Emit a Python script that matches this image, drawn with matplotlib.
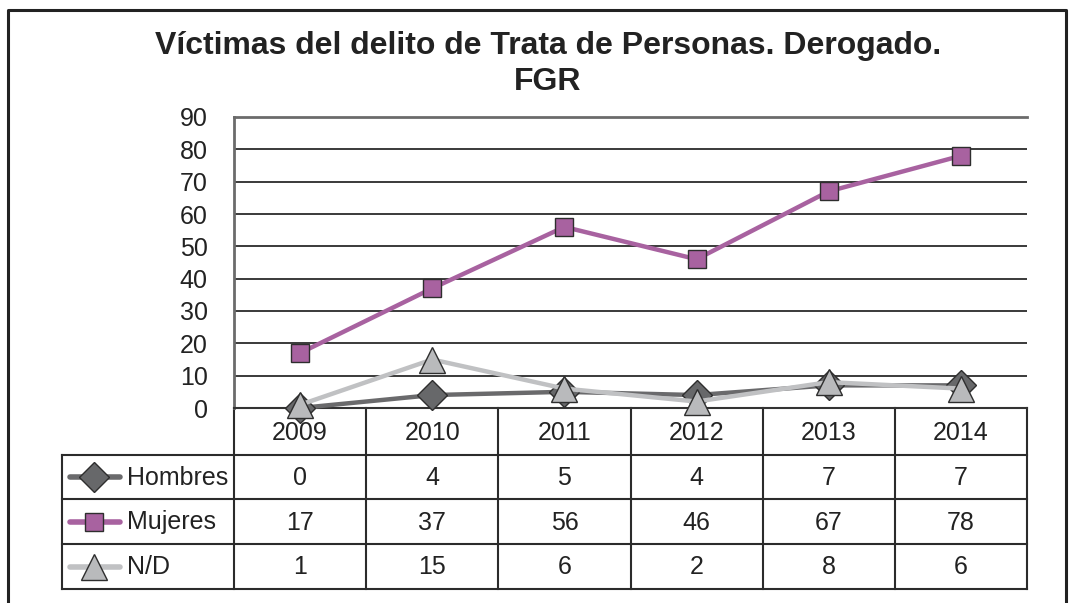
import matplotlib
matplotlib.use('Agg')
import matplotlib.pyplot as plt
from matplotlib.lines import Line2D

plt.rcParams['font.family'] = ['Liberation Sans', 'DejaVu Sans']

# data
years = ['2009', '2010', '2011', '2012', '2013', '2014']
series_names = ['Hombres', 'Mujeres', 'N/D']
hombres = [0, 4, 5, 4, 7, 7]
mujeres = [17, 37, 56, 46, 67, 78]
nd = [1, 15, 6, 2, 8, 6]
yticks = [0, 10, 20, 30, 40, 50, 60, 70, 80, 90]

W, H = 1074, 603
styles = [
    dict(color='#6a6a6c', marker='D', mfc='#67686a', ms=15),
    dict(color='#a862a0', marker='s', mfc='#a862a0', ms=13),
    dict(color='#c0c1c3', marker='^', mfc='#b9babc', ms=19),
]
values = [hombres, mujeres, nd]

fig = plt.figure(figsize=(W / 100, H / 100), dpi=100)

# background layer in pixel coordinates for frame and table
bg = fig.add_axes([0, 0, 1, 1])
bg.set_xlim(0, W)
bg.set_ylim(H, 0)
bg.axis('off')

# outer frame
bg.plot([8, 8, 1066, 1066], [H + 5, 10, 10, H + 5], color='#222222', lw=2.2, clip_on=False)

# plot area
x0, x1, ytop, ybot = 234, 1027, 117, 408
ax = fig.add_axes([x0 / W, 1 - ybot / H, (x1 - x0) / W, (ybot - ytop) / H])
ax.patch.set_alpha(0)
ax.set_xlim(-0.5, len(years) - 0.5)
ax.set_ylim(0, 90)
ax.set_yticks(yticks)
ax.set_xticks([])
ax.tick_params(axis='y', length=0, pad=19, labelsize=18, labelcolor='#222222')
for y in yticks[1:-1]:
    ax.axhline(y, color='#2b2b2b', lw=1.3, zorder=1)
for side in ['top', 'left', 'right']:
    ax.spines[side].set_color('#6b6b6b')
    ax.spines[side].set_linewidth(2)
ax.spines['right'].set_visible(False)
ax.spines['bottom'].set_color('#333333')
ax.spines['bottom'].set_linewidth(1.5)

xs = list(range(len(years)))
for vals, st in zip(values, styles):
    ax.plot(xs, vals, color=st['color'], lw=3.2, marker=st['marker'],
            ms=st['ms'], mfc=st['mfc'], mec='#2e2e2e', mew=1.0,
            clip_on=False, zorder=3)

# data table below the plot
col_w = (x1 - x0) / len(years)
row_edges = [408, 455, 499, 544, 589]
tab_left = 62
lc = '#2b2b2b'
for i in range(len(years) + 1):
    bx = x0 + i * col_w
    bg.plot([bx, bx], [row_edges[0], row_edges[-1]], color=lc, lw=1.5)
bg.plot([tab_left, tab_left], [row_edges[1], row_edges[-1]], color=lc, lw=1.5)
for k, ry in enumerate(row_edges[1:]):
    bg.plot([tab_left, x1], [ry, ry], color=lc, lw=1.5)

for i, yr in enumerate(years):
    bg.text(x0 + (i + 0.5) * col_w, 433, yr, ha='center', va='center',
            fontsize=18, color='#222222')

for r, (name, vals, st) in enumerate(zip(series_names, values, styles)):
    cy = (row_edges[r + 1] + row_edges[r + 2]) / 2
    bg.plot([70, 120], [cy, cy], color=st['color'], lw=4, solid_capstyle='round')
    bg.plot([94], [cy], marker=st['marker'], ms=st['ms'], mfc=st['mfc'],
            mec='#2e2e2e', mew=1.0, ls='none')
    bg.text(127, cy + 1, name, ha='left', va='center', fontsize=18, color='#222222')
    for i, v in enumerate(vals):
        bg.text(x0 + (i + 0.5) * col_w, cy + 1, str(v), ha='center', va='center',
                fontsize=18, color='#222222')

# title
fig.text(548 / W, 1 - 46 / H, 'Víctimas del delito de Trata de Personas. Derogado.',
         ha='center', va='center', fontsize=23, fontweight='bold', color='#222222')
fig.text(548 / W, 1 - 82 / H, 'FGR', ha='center', va='center',
         fontsize=23, fontweight='bold', color='#222222')

fig.savefig('out.png', dpi=100)
